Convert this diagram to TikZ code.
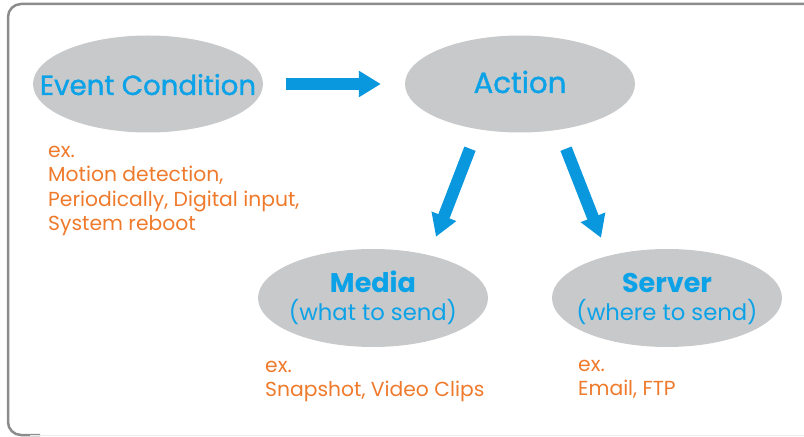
\documentclass[tikz,border=0pt]{standalone}
\usepackage{fontspec}
\setmainfont{Poppins}
\newfontfamily\medfont[FakeBold=1.2]{Poppins}
\usetikzlibrary{arrows.meta,calc,shapes.geometric}
\definecolor{ttblue}{HTML}{0BA2E8}
\definecolor{arblue}{HTML}{0997DE}
\definecolor{ellgray}{HTML}{C8C9CA}
\definecolor{exorange}{HTML}{EF7A2C}
\definecolor{framegray}{HTML}{8C8C8C}
\tikzset{
  bubble/.style={ellipse, fill=ellgray, inner sep=0pt, minimum width=230bp, minimum height=97bp},
  title/.style={text=ttblue, inner sep=0pt, anchor=base},
  bigarrow/.style={draw=arblue, line width=12bp, -{Triangle[length=22bp,width=25bp]}},
  extext/.style={text=exorange, align=left, anchor=north west, inner sep=0pt, font=\fontsize{20.3bp}{24.6bp}\selectfont},
}
\newcommand{\exstrut}{\rule{0pt}{14bp}}
\begin{document}
\begin{tikzpicture}[x=1bp,y=-1bp]
\useasboundingbox (0,0) rectangle (804,437);
% frame
\draw[framegray, line width=2.5bp, rounded corners=13bp] (806,4) -- (8,4) -- (8,435) -- (40,435);
\draw[gray!15, line width=1.5bp] (30,435.5) -- (806,435.5);
% bubbles
\node[bubble] (ec) at (148,84) {};
\node[bubble] (act) at (520,84) {};
\node[bubble, minimum height=98bp] (med) at (373,298) {};
\node[bubble, minimum height=98bp] (srv) at (667,298) {};
% titles
\node[title, font=\fontsize{27.6bp}{30bp}\medfont] (ect) at ($(ec.center)+(0,11)$) {Event Condition};
\node[title, font=\fontsize{29.3bp}{30bp}\medfont] (actt) at ($(act.center)+(0,9)$) {Action};
\node[title, font=\fontsize{27bp}{30bp}\selectfont\bfseries] (medt) at ($(med.center)+(0,-5)$) {Media};
\node[title, font=\fontsize{22.7bp}{30bp}\selectfont] (meds) at ($(med.center)+(0,23)$) {(what to send)};
\node[title, font=\fontsize{27bp}{30bp}\selectfont\bfseries] (srvt) at ($(srv.center)+(0,-5)$) {Server};
\node[title, font=\fontsize{22.7bp}{30bp}\selectfont] (srvs) at ($(srv.center)+(0,23)$) {(where to send)};
% examples
\node[extext] (exec) at (48,143) {\exstrut ex.\\Motion detection,\\Periodically, Digital input,\\System reboot};
\node[extext] (exmed) at (265,358) {\exstrut ex.\\Snapshot, Video Clips};
\node[extext] (exsrv) at (578,357) {\exstrut ex.\\Email, FTP};
% arrows
\draw[bigarrow, shorten <=23bp, shorten >=24bp] (ec.east) -- (act.west);
\coordinate (a1s) at ($(act.south)+(-50,16)$);
\coordinate (a1e) at ($(med.north)+(63,-12)$);
\coordinate (a2s) at ($(act.south)+(46,16)$);
\coordinate (a2e) at ($(srv.north)+(-66,-11)$);
\draw[bigarrow] (a1s) -- (a1e);
\draw[bigarrow] (a2s) -- (a2e);
\end{tikzpicture}
\end{document}
